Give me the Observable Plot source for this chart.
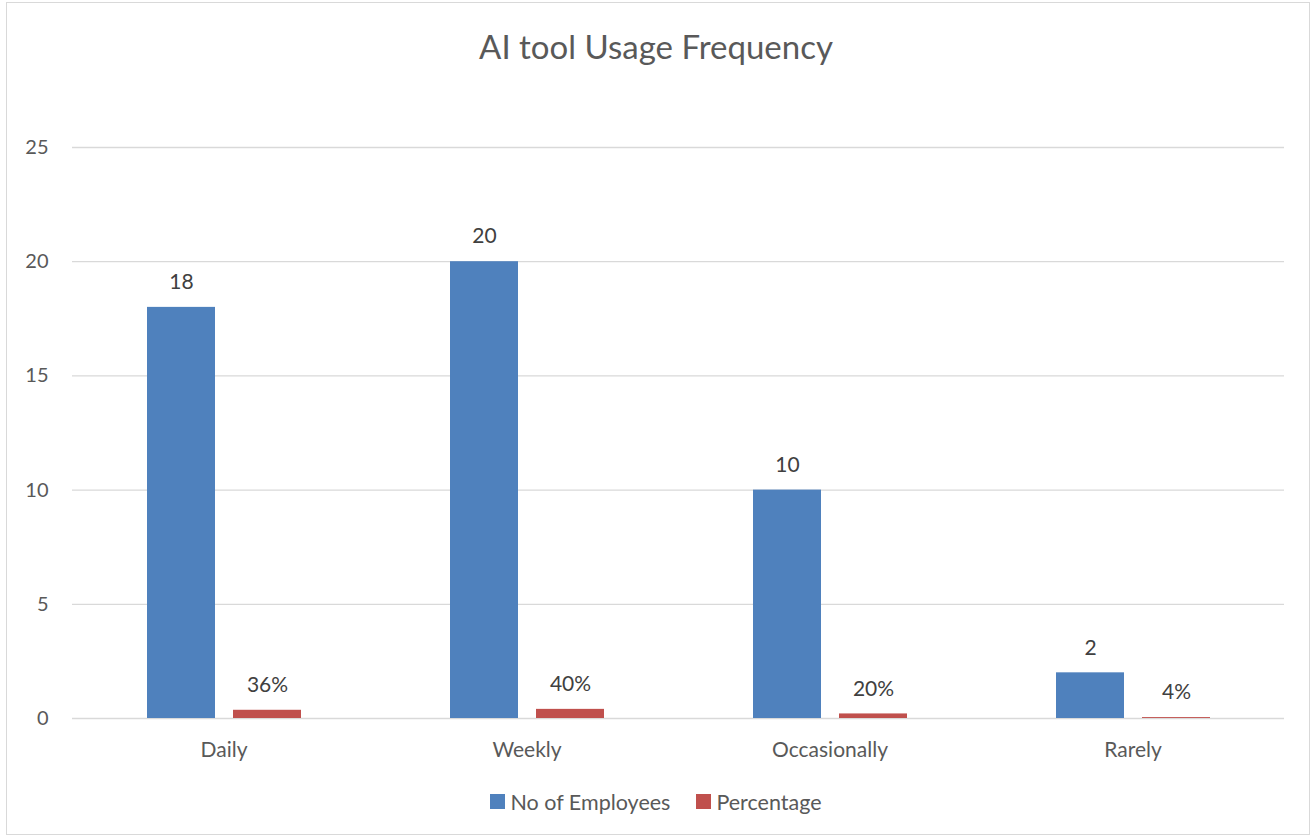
<!DOCTYPE html>
<html>
<head>
<meta charset="utf-8">
<script src="https://cdn.jsdelivr.net/npm/d3@7"></script>
<script src="https://cdn.jsdelivr.net/npm/@observablehq/plot@0.6"></script>
<style>
  html, body { margin: 0; padding: 0; background: #fff; }
  #wrap { position: relative; width: 1312px; height: 838px; overflow: hidden; font-family: Lato, "Liberation Sans", sans-serif; color: #595959; }
  #border { position: absolute; left: 6px; top: 2px; width: 1304px; height: 833px; border: 1px solid #d9d9d9; box-sizing: border-box; }
  #title { position: absolute; left: 0; width: 1312px; top: 26px; text-align: center; font-size: 33px; color: #595959; }
  #chart { position: absolute; left: 0; top: 0; }
  #legend { position: absolute; left: 0; width: 1312px; top: 788px; text-align: center; font-size: 21.5px; color: #595959; }
  .item { display: inline-flex; align-items: center; margin: 0 13px; }
  .sw { width: 15px; height: 15px; margin-right: 5px; display: inline-block; }
</style>
</head>
<body>
<div id="wrap">
  <div id="border"></div>
  <div id="title">AI tool Usage Frequency</div>
  <div id="chart"></div>
  <div id="legend"></div>
</div>
<script>
const categories = ["Daily", "Weekly", "Occasionally", "Rarely"];
const employees = [18, 20, 10, 2];
const percentage = [0.36, 0.40, 0.20, 0.04];
const seriesNames = ["No of Employees", "Percentage"];
const seriesColors = ["#4F81BD", "#C0504D"];
const yTicks = [0, 5, 10, 15, 20, 25];

const rows = categories.flatMap((c, i) => [
  {cat: c, series: seriesNames[0], value: employees[i], label: String(employees[i])},
  {cat: c, series: seriesNames[1], value: percentage[i], label: Math.round(percentage[i] * 100) + "%"}
]);

const plot = Plot.plot({
  width: 1312,
  height: 770,
  marginLeft: 72,
  marginRight: 28,
  marginTop: 147,
  marginBottom: 52,
  style: {fontFamily: "Lato, 'Liberation Sans', sans-serif", fontSize: "20px", color: "#595959", background: "transparent"},
  fx: {domain: categories, padding: 0, label: null, axis: "bottom", tickSize: 0, tickPadding: 24},
  x: {domain: seriesNames, axis: null, paddingInner: 0.21, paddingOuter: 0.866},
  y: {domain: [0, 25], ticks: yTicks, label: null, tickSize: 0, tickPadding: 24},
  color: {domain: seriesNames, range: seriesColors},
  marks: [
    Plot.ruleY(yTicks, {stroke: "#d9d9d9", strokeWidth: 1.3}),
    Plot.barY(rows, {fx: "cat", x: "series", y: "value", fill: "series"}),
    Plot.text(rows, {fx: "cat", x: "series", y: "value", text: "label", dy: -25, fill: "#404040", fontSize: 21})
  ]
});
plot.querySelectorAll("[aria-label='fx-axis tick label'] text, g[aria-label='fx-axis tick label']").forEach(g => g.setAttribute("font-size", "21"));
document.getElementById("chart").appendChild(plot);

const legend = document.getElementById("legend");
seriesNames.forEach((n, i) => {
  const it = document.createElement("span");
  it.className = "item";
  it.innerHTML = `<span class="sw" style="background:${seriesColors[i]}"></span>${n}`;
  legend.appendChild(it);
});
</script>
</body>
</html>
